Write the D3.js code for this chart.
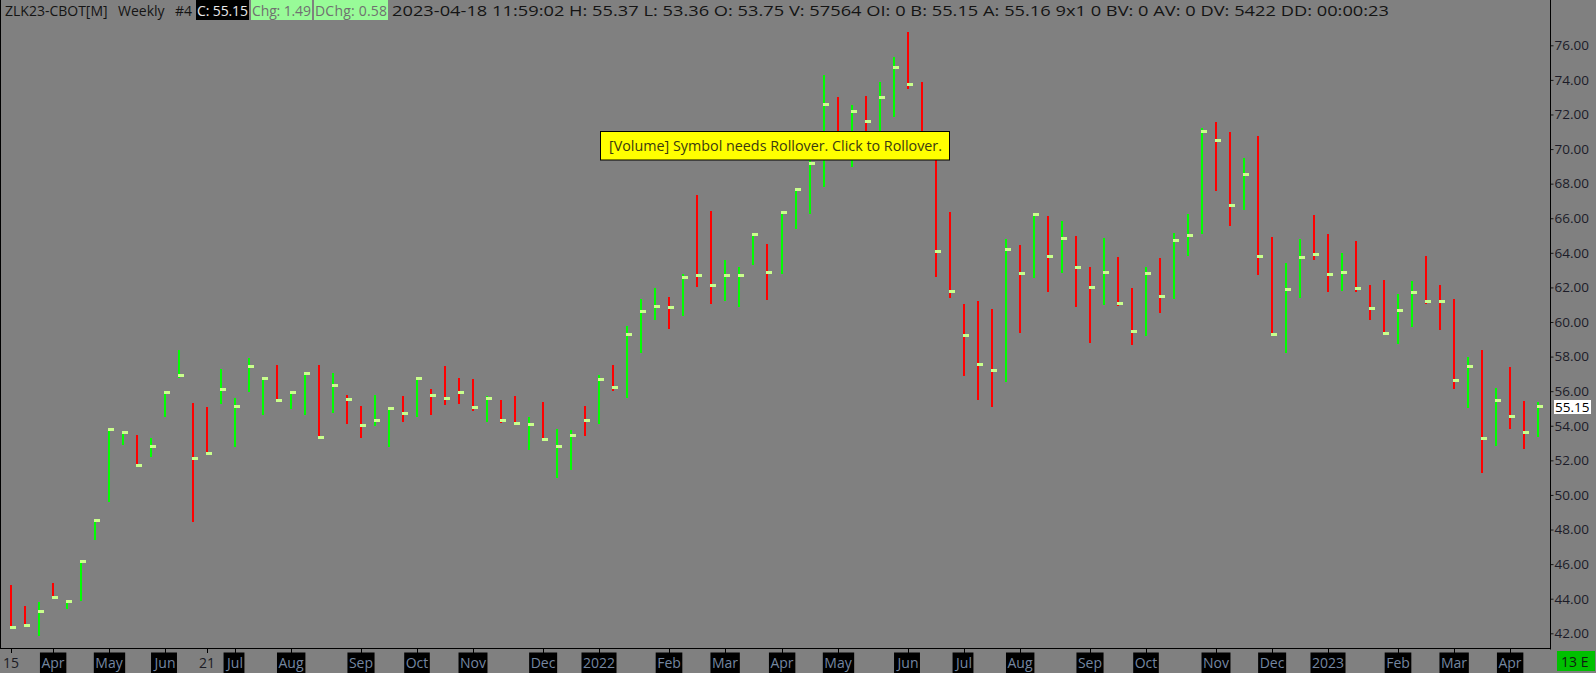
<!DOCTYPE html>
<html><head><meta charset="utf-8">
<script src="https://cdn.jsdelivr.net/npm/d3@7"></script>
<style>
html,body{margin:0;padding:0;background:#808080;overflow:hidden}
svg{display:block}
text{font-family:"Open Sans","Noto Sans",sans-serif}
</style></head><body>
<svg id="c" width="1596" height="673"></svg>
<script>
// ---- data (weekly HLC bars, Mar 15 2021 .. Apr 17 2023) ----
const highs = [
 44.80,43.58,43.83,44.91,43.92,46.24,48.60,53.86,53.70,53.47,
 53.30,55.97,58.40,55.32,55.09,57.27,55.59,57.90,56.80,57.52,
 56.01,57.07,57.52,57.04,55.77,55.15,55.77,55.11,55.72,56.78,
 56.13,57.46,56.77,56.71,55.74,55.49,55.72,54.53,55.38,53.80,
 53.76,55.15,56.92,57.52,59.78,61.32,61.99,61.45,62.78,67.35,
 66.42,63.59,63.17,65.08,64.52,66.44,67.74,70.00,74.29,73.00,
 72.55,73.08,73.90,75.35,76.78,73.89,70.30,66.37,61.05,61.22,
 60.76,64.79,64.44,66.33,66.14,65.85,64.98,63.17,64.87,63.77,
 61.98,63.17,63.69,65.13,66.23,71.21,71.56,70.99,69.48,70.76,
 64.92,63.40,64.79,66.17,65.09,63.99,64.70,62.13,62.42,61.62,
 62.36,63.82,62.15,61.33,57.96,58.39,56.19,57.40,55.44,55.37];
const lows = [
 42.30,42.40,41.84,44.05,43.39,43.89,47.40,49.61,52.89,51.70,
 52.21,54.49,56.75,48.46,52.40,55.24,52.79,55.97,54.65,55.45,
 54.96,54.63,53.28,54.76,54.10,53.31,54.01,52.79,54.24,54.53,
 54.63,55.20,55.26,54.88,54.24,54.18,54.10,52.60,53.18,51.00,
 51.44,53.41,54.10,56.01,55.63,58.23,60.12,59.60,60.37,62.05,
 61.06,61.22,60.89,63.30,61.28,62.78,65.38,66.25,67.83,69.90,
 68.99,70.30,70.00,71.88,73.46,69.60,62.62,61.41,56.85,55.50,
 55.10,56.55,59.39,62.53,61.76,62.86,60.89,58.81,61.00,60.95,
 58.67,59.20,60.54,61.33,63.84,65.09,67.59,65.58,66.47,62.74,
 59.20,58.19,61.39,63.59,61.74,61.80,61.74,60.12,59.29,58.72,
 59.70,61.06,59.56,56.15,55.05,51.29,52.85,53.83,52.66,53.36];
const closes = [
 42.35,42.46,43.27,44.08,43.87,46.16,48.54,53.80,53.63,51.72,
 52.82,55.94,56.92,52.12,52.41,56.11,55.13,57.44,56.75,55.48,
 55.94,57.04,53.34,56.34,55.53,54.03,54.32,55.01,54.72,56.75,
 55.77,55.59,55.94,55.07,55.59,54.32,54.15,54.09,53.22,52.82,
 53.45,54.32,56.69,56.23,59.29,60.62,60.91,60.85,62.59,62.70,
 62.13,62.70,62.70,65.08,62.88,66.35,67.68,69.18,72.60,70.20,
 72.21,71.61,73.00,74.74,73.75,70.40,64.11,61.78,59.25,57.60,
 57.20,64.21,62.82,66.23,63.80,64.85,63.17,62.01,62.88,61.09,
 59.47,62.82,61.49,64.73,65.02,71.03,70.51,66.77,68.55,63.80,
 59.29,61.90,63.75,63.92,62.76,62.88,61.95,60.80,59.35,60.68,
 61.72,61.20,61.20,56.63,57.44,53.28,55.48,54.55,53.63,55.15];
// bar direction (U = close above open, D = below)
const dirs = [
 "D","D","U","D","U","U","U","U","U","D",
 "U","U","U","D","D","U","U","U","U","D",
 "U","U","D","U","D","D","U","U","D","U",
 "D","D","D","D","U","D","D","U","D","U",
 "U","D","U","D","U","U","U","D","U","D",
 "D","U","U","U","D","U","U","U","U","D",
 "U","D","U","U","D","D","D","D","D","D",
 "D","U","D","U","D","U","D","D","U","D",
 "D","U","D","U","U","U","D","D","U","D",
 "D","U","U","D","D","U","D","D","D","U",
 "U","D","D","D","U","D","U","D","D","U"];
// x-axis labels: bar index and text
const tickIdx  = [0,3,7,11,14,16,20,25,29,33,38,42,47,51,55,59,64,68,72,77,81,86,90,94,99,103,107];
const tickText = ["15","Apr","May","Jun","21","Jul","Aug","Sep","Oct","Nov","Dec","2022","Feb","Mar","Apr","May","Jun","Jul","Aug","Sep","Oct","Nov","Dec","2023","Feb","Mar","Apr"];
const priceTicks = d3.range(42, 77, 2);
const lastPrice = 55.15;

// ---- drawing ----
const W = 1596, H = 673;
const svg = d3.select('#c');
const x = d3.scaleLinear().domain([0, closes.length - 1]).range([10.3, 1536.7]);
const y = d3.scaleLinear().domain([42, 76]).range([633.3, 45.3]);
const axisX = 1550, axisY = 648.5;

svg.append('rect').attr('width', W).attr('height', H).attr('fill', '#808080');

const colors = {U: '#00ff00', D: '#ff0000', N: '#3c3c3c'};
const bars = svg.append('g');
bars.selectAll('rect.hl').data(closes).join('rect').attr('class', 'hl')
  .attr('x', (d, i) => Math.round(x(i)))
  .attr('width', 2)
  .attr('y', (d, i) => Math.round(y(highs[i])))
  .attr('height', (d, i) => Math.max(1, Math.round(y(lows[i])) - Math.round(y(highs[i]))))
  .attr('fill', (d, i) => colors[dirs[i]]);
bars.selectAll('rect.cl').data(closes).join('rect').attr('class', 'cl')
  .attr('x', (d, i) => Math.round(x(i)))
  .attr('width', 6)
  .attr('y', d => Math.round(y(d)) - 1)
  .attr('height', 3)
  .attr('fill', '#c8ff8c');

// frame
svg.append('line').attr('x1', 0.5).attr('x2', 0.5).attr('y1', 0).attr('y2', axisY).attr('stroke', '#000');
svg.append('line').attr('x1', 0).attr('x2', axisX + 0.5).attr('y1', axisY).attr('y2', axisY).attr('stroke', '#000').attr('stroke-width', 1);

// right price axis
const ya = d3.axisRight(y).tickValues(priceTicks).tickFormat(d3.format('.2f')).tickSize(3).tickPadding(1);
const yg = svg.append('g').attr('transform', `translate(${axisX + 0.5},0)`).call(ya);
yg.select('.domain').remove();
yg.selectAll('.tick line').attr('stroke', '#1a1a1a');
yg.selectAll('.tick text').attr('fill', '#1c1c28').attr('font-size', 13.5).attr('font-family', '"Open Sans",sans-serif');
svg.append('line').attr('x1', axisX + 0.5).attr('x2', axisX + 0.5).attr('y1', 0).attr('y2', axisY + 1).attr('stroke', '#000');

// last price marker
const lp = svg.append('g');
lp.append('rect').attr('x', 1554).attr('y', Math.round(y(lastPrice)) - 6).attr('width', 37).attr('height', 14).attr('fill', '#fff');
lp.append('text').attr('x', 1555).attr('y', Math.round(y(lastPrice)) + 5.5).attr('font-size', 13.5).attr('fill', '#000').text(lastPrice.toFixed(2));

// bottom time axis
const xg = svg.append('g');
tickIdx.forEach((ti, k) => {
  const cx = Math.round(x(ti)) + 1;
  xg.append('line').attr('x1', cx + 0.5).attr('x2', cx + 0.5).attr('y1', axisY).attr('y2', axisY + 4.5).attr('stroke', '#000');
  const t = tickText[k];
  const boxed = !(t === '15' || t === '21');
  const tx = xg.append('text').attr('x', cx).attr('y', 668).attr('text-anchor', 'middle')
    .attr('font-size', 14).text(t);
  if (boxed) {
    const bb = tx.node().getBBox();
    xg.insert('rect', () => tx.node()).attr('x', bb.x - 1.5).attr('y', 652.5).attr('width', bb.width + 3).attr('height', 21).attr('fill', '#000');
    tx.attr('fill', '#7486a0');
  } else {
    tx.attr('fill', '#1c1c24');
  }
});

// "13 E" box
svg.append('rect').attr('x', 1557).attr('y', 651).attr('width', 38).attr('height', 20).attr('fill', '#00c000');
svg.append('text').attr('x', 1561).attr('y', 667).attr('font-size', 14).attr('fill', '#102010').text('13 E');

// header
const hd = svg.append('g').attr('font-size', 14);
function htext(xp, t, fill) { return hd.append('text').attr('x', xp).attr('y', 16).attr('fill', fill).text(t); }
htext(5, 'ZLK23-CBOT[M]', '#141414');
htext(118, 'Weekly', '#141414');
htext(175, '#4', '#141414');
hd.append('rect').attr('x', 196).attr('y', 0).attr('width', 53).attr('height', 20).attr('fill', '#000');
htext(197, 'C: 55.15', '#e8e8e8').attr('textLength', 51);
hd.append('rect').attr('x', 251).attr('y', 0).attr('width', 61).attr('height', 20).attr('fill', '#98fb98');
htext(252, 'Chg: 1.49', '#707070').attr('textLength', 59);
hd.append('rect').attr('x', 314).attr('y', 0).attr('width', 74).attr('height', 20).attr('fill', '#98fb98');
htext(315, 'DChg: 0.58', '#707070').attr('textLength', 72);
htext(392, '2023-04-18 11:59:02 H: 55.37 L: 53.36 O: 53.75 V: 57564 OI: 0 B: 55.15 A: 55.16 9x1 0 BV: 0 AV: 0 DV: 5422 DD: 00:00:23', '#141414')
  .attr('textLength', 997).attr('lengthAdjust', 'spacingAndGlyphs');

// rollover notice
const nb = svg.append('g');
nb.append('rect').attr('x', 600.5).attr('y', 131.5).attr('width', 349).attr('height', 28.5).attr('fill', '#ffff00').attr('stroke', '#000').attr('stroke-width', 1);
nb.append('text').attr('x', 609).attr('y', 151).attr('font-size', 14).attr('fill', '#3a3a10')
  .attr('textLength', 333).attr('lengthAdjust', 'spacingAndGlyphs')
  .text('[Volume] Symbol needs Rollover. Click to Rollover.');
</script>
</body></html>
